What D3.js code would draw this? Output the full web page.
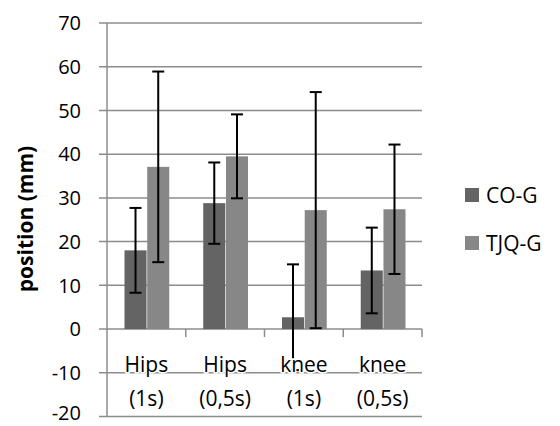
<!DOCTYPE html>
<html>
<head>
<meta charset="utf-8">
<script src="https://cdn.jsdelivr.net/npm/d3@7"></script>
<style>
  body { margin: 0; background: #fff; }
  svg text { font-family: "Open Sans", sans-serif; fill: #000; }
</style>
</head>
<body>
<div id="chart"></div>
<script>
// data
const categories = [['Hips', '(1s)'], ['Hips', '(0,5s)'], ['knee', '(1s)'], ['knee', '(0,5s)']];
const seriesNames = ['CO-G', 'TJQ-G'];
const seriesColors = ['#646464', '#878787'];
const coValues = [18, 28.8, 2.7, 13.4];
const coErrors = [9.7, 9.3, 12.1, 9.8];
const tjqValues = [37.1, 39.5, 27.2, 27.4];
const tjqErrors = [21.8, 9.6, 27.0, 14.8];
const yTicks = [-20, -10, 0, 10, 20, 30, 40, 50, 60, 70];

const width = 560, height = 426;
const plot = {left: 107, right: 422, top: 23, bottom: 416.5};

const svg = d3.select('#chart')
  .append('svg')
  .attr('width', width)
  .attr('height', height);

const y = d3.scaleLinear()
  .domain([-20, 70])
  .range([plot.bottom, plot.top]);

const x0 = d3.scaleBand()
  .domain(d3.range(categories.length))
  .range([plot.left, plot.right]);

const x1 = d3.scaleBand()
  .domain(seriesNames)
  .range([17.5, x0.bandwidth() - 16.5])
  .paddingInner(0.03);

// horizontal gridlines (also the tick marks to the left of the axis)
svg.append('g')
  .selectAll('line')
  .data(yTicks)
  .enter().append('line')
  .attr('x1', plot.left - 8)
  .attr('x2', plot.right)
  .attr('y1', d => y(d))
  .attr('y2', d => y(d))
  .attr('stroke', '#8c8c8c')
  .attr('stroke-width', 1.5);

// vertical axis line
svg.append('line')
  .attr('x1', plot.left).attr('x2', plot.left)
  .attr('y1', plot.top).attr('y2', plot.bottom)
  .attr('stroke', '#8c8c8c')
  .attr('stroke-width', 1.5);

// category tick marks hanging from the zero line
svg.append('g')
  .selectAll('line')
  .data(d3.range(1, categories.length + 1))
  .enter().append('line')
  .attr('x1', i => plot.left + i * x0.bandwidth())
  .attr('x2', i => plot.left + i * x0.bandwidth())
  .attr('y1', y(0))
  .attr('y2', y(0) + 8)
  .attr('stroke', '#8c8c8c')
  .attr('stroke-width', 1.5);

// y tick labels (lowest one nudged up so it stays inside the page)
svg.append('g')
  .selectAll('text')
  .data(yTicks)
  .enter().append('text')
  .attr('x', 81)
  .attr('y', d => y(d))
  .attr('dy', d => d === -20 ? '0.16em' : '0.36em')
  .attr('text-anchor', 'end')
  .attr('font-size', 20)
  .text(d => d);

const rows = categories.map((c, i) => [
  {series: 'CO-G', value: coValues[i], err: coErrors[i], color: seriesColors[0]},
  {series: 'TJQ-G', value: tjqValues[i], err: tjqErrors[i], color: seriesColors[1]}
]);

const groups = svg.append('g')
  .selectAll('g')
  .data(rows)
  .enter().append('g')
  .attr('transform', (d, i) => `translate(${x0(i)},0)`);

groups.selectAll('rect')
  .data(d => d)
  .enter().append('rect')
  .attr('x', d => x1(d.series))
  .attr('width', x1.bandwidth())
  .attr('y', d => y(Math.max(0, d.value)))
  .attr('height', d => Math.abs(y(d.value) - y(0)))
  .attr('fill', d => d.color);

// error bars
const err = groups.selectAll('g.err')
  .data(d => d)
  .enter().append('g')
  .attr('class', 'err')
  .attr('stroke', '#000')
  .attr('stroke-width', 2);

const cx = d => x1(d.series) + x1.bandwidth() / 2;
err.append('line')
  .attr('x1', cx).attr('x2', cx)
  .attr('y1', d => y(d.value + d.err))
  .attr('y2', d => y(d.value - d.err));
err.append('line')
  .attr('x1', d => cx(d) - 6).attr('x2', d => cx(d) + 6)
  .attr('y1', d => y(d.value + d.err))
  .attr('y2', d => y(d.value + d.err));
err.append('line')
  .attr('x1', d => cx(d) - 6).attr('x2', d => cx(d) + 6)
  .attr('y1', d => y(d.value - d.err))
  .attr('y2', d => y(d.value - d.err));

// category labels (two lines), drawn over the error bars
const catLabels = svg.append('g')
  .selectAll('text')
  .data(categories)
  .enter().append('text')
  .attr('text-anchor', 'middle')
  .attr('font-size', 21)
  .attr('stroke', '#fff')
  .attr('stroke-width', 3)
  .attr('paint-order', 'stroke')
  .attr('x', (d, i) => x0(i) + x0.bandwidth() / 2);
catLabels.append('tspan')
  .attr('x', (d, i) => x0(i) + x0.bandwidth() / 2)
  .attr('y', 364)
  .attr('dy', '0.36em')
  .text(d => d[0]);
catLabels.append('tspan')
  .attr('x', (d, i) => x0(i) + x0.bandwidth() / 2)
  .attr('y', 398)
  .attr('dy', '0.36em')
  .text(d => d[1]);

// y axis title
svg.append('text')
  .attr('transform', 'translate(25,219) rotate(-90)')
  .attr('text-anchor', 'middle')
  .attr('dy', '0.36em')
  .attr('font-size', 21)
  .attr('font-weight', 'bold')
  .text('position (mm)');

// legend
const legend = svg.append('g')
  .selectAll('g')
  .data(seriesNames)
  .enter().append('g')
  .attr('transform', (d, i) => `translate(465,${195 + i * 48})`);
legend.append('rect')
  .attr('x', 0).attr('y', -7)
  .attr('width', 14).attr('height', 14)
  .attr('fill', (d, i) => seriesColors[i]);
legend.append('text')
  .attr('x', 21)
  .attr('dy', '0.36em')
  .attr('font-size', 21)
  .text(d => d);
</script>
</body>
</html>
